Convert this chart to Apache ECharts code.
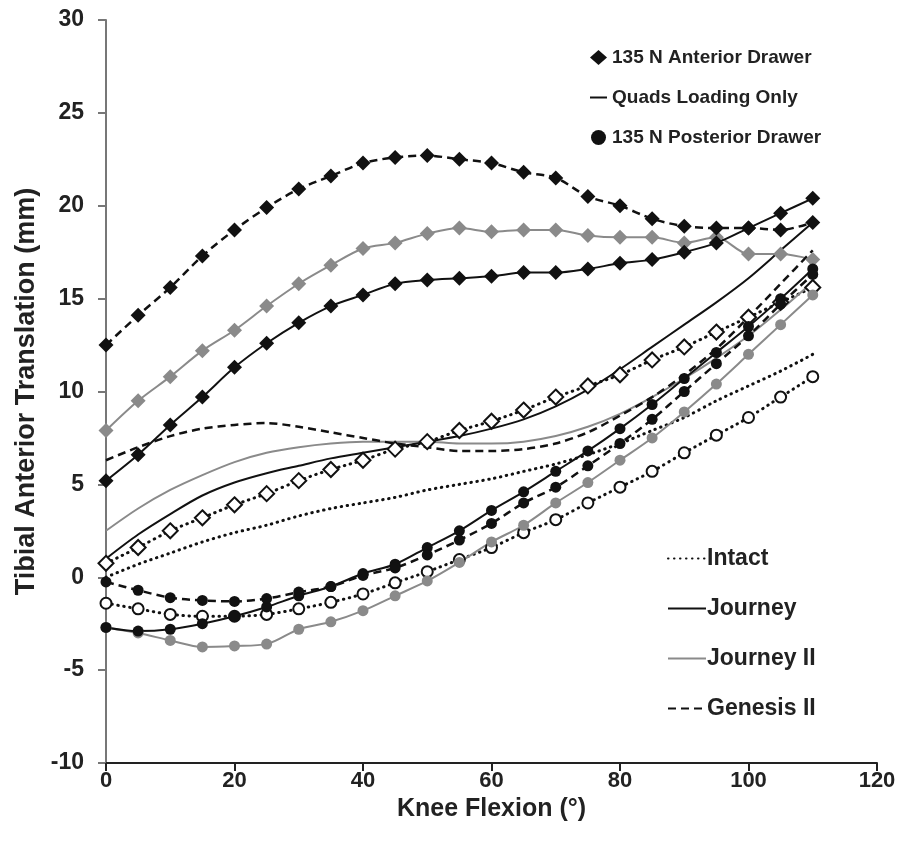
<!DOCTYPE html>
<html>

<head>
  <meta charset="UTF-8">
  <title>Tibial Anterior Translation</title>
  <script src="https://cdn.jsdelivr.net/npm/echarts@6/dist/echarts.min.js"></script>
  <style>
    body {
      margin: 0;
      padding: 0;
      background: #ffffff;
    }

    #chart {
      width: 904px;
      height: 853px;
    }
  </style>
</head>

<body>
  <div id="chart"></div>

  <script>
    // knee flexion angles (deg)
    var flexion = [0, 5, 10, 15, 20, 25, 30, 35, 40, 45, 50, 55, 60, 65, 70, 75, 80, 85, 90, 95, 100, 105, 110];

    // Intact
    var intactAnt = [0.75, 1.6, 2.5, 3.2, 3.9, 4.5, 5.2, 5.8, 6.3, 6.9, 7.3, 7.9, 8.4, 9.0, 9.7, 10.3, 10.9, 11.7, 12.4, 13.2, 14.0, 14.8, 15.6];
    var intactQuads = [0.0, 0.7, 1.3, 1.9, 2.4, 2.8, 3.3, 3.7, 4.0, 4.3, 4.7, 5.0, 5.3, 5.7, 6.1, 6.6, 7.2, 7.9, 8.6, 9.5, 10.3, 11.1, 12.0];
    var intactPost = [-1.4, -1.7, -2.0, -2.1, -2.1, -2.0, -1.7, -1.35, -0.9, -0.3, 0.3, 0.95, 1.6, 2.4, 3.1, 4.0, 4.85, 5.7, 6.7, 7.65, 8.6, 9.7, 10.8];

    // Journey
    var journeyAnt = [5.2, 6.6, 8.2, 9.7, 11.3, 12.6, 13.7, 14.6, 15.2, 15.8, 16.0, 16.1, 16.2, 16.4, 16.4, 16.6, 16.9, 17.1, 17.5, 18.0, 18.8, 19.6, 20.4];
    var journeyQuads = [1.0, 2.3, 3.4, 4.4, 5.1, 5.6, 6.0, 6.4, 6.7, 7.0, 7.3, 7.6, 8.0, 8.5, 9.2, 10.1, 11.2, 12.4, 13.6, 14.8, 16.1, 17.6, 19.1];
    var journeyPost = [-2.7, -2.9, -2.8, -2.5, -2.1, -1.6, -1.0, -0.5, 0.2, 0.7, 1.6, 2.5, 3.6, 4.6, 5.7, 6.8, 8.0, 9.3, 10.7, 12.1, 13.5, 15.0, 16.6];

    // Journey II
    var journey2Ant = [7.9, 9.5, 10.8, 12.2, 13.3, 14.6, 15.8, 16.8, 17.7, 18.0, 18.5, 18.8, 18.6, 18.7, 18.7, 18.4, 18.3, 18.3, 18.0, 18.3, 17.4, 17.4, 17.1];
    var journey2Quads = [2.5, 3.7, 4.7, 5.5, 6.2, 6.7, 7.0, 7.2, 7.3, 7.3, 7.3, 7.2, 7.2, 7.3, 7.6, 8.1, 8.8, 9.7, 10.7, 11.8, 13.0, 14.4, 15.9];
    var journey2Post = [-2.7, -3.0, -3.4, -3.75, -3.7, -3.6, -2.8, -2.4, -1.8, -1.0, -0.2, 0.8, 1.9, 2.8, 4.0, 5.1, 6.3, 7.5, 8.9, 10.4, 12.0, 13.6, 15.2];

    // Genesis II
    var genesisAnt = [12.5, 14.1, 15.6, 17.3, 18.7, 19.9, 20.9, 21.6, 22.3, 22.6, 22.7, 22.5, 22.3, 21.8, 21.5, 20.5, 20.0, 19.3, 18.9, 18.8, 18.8, 18.7, 19.1];
    var genesisQuads = [6.3, 7.0, 7.6, 8.0, 8.2, 8.3, 8.1, 7.8, 7.5, 7.2, 7.0, 6.8, 6.8, 6.9, 7.2, 7.8, 8.7, 9.7, 10.9, 12.3, 14.0, 15.8, 17.6];
    var genesisPost = [-0.25, -0.7, -1.1, -1.25, -1.3, -1.15, -0.8, -0.5, 0.1, 0.5, 1.2, 2.0, 2.9, 4.0, 4.85, 6.0, 7.2, 8.5, 10.0, 11.5, 13.0, 14.7, 16.3];

    var loadLegend = ['135 N Anterior Drawer', 'Quads Loading Only', '135 N Posterior Drawer'];
    var implantLegend = ['Intact', 'Journey', 'Journey II', 'Genesis II'];

    var GRAY = '#8a8a8a';
    var BLACK = '#111111';
    var FONT = '"Liberation Sans", Arial, sans-serif';

    function pairs(vals) {
      return flexion.map(function (x, i) { return [x, vals[i]]; });
    }

    var dotted = [0.5, 5.5];
    var dashed = [8, 5];

    // one curve: values, line colour, dash type, marker
    function curve(name, vals, color, dash, symbol, fill) {
      return {
        name: name,
        type: 'line',
        data: pairs(vals),
        smooth: 0.3,
        symbol: symbol,
        symbolSize: symbol === 'diamond' ? 15 : 11,
        showSymbol: symbol !== 'none',
        lineStyle: {
          color: color,
          width: dash === dotted ? 3 : (dash === 'solid' ? 2 : 2.5),
          type: dash,
          cap: dash === dotted ? 'round' : 'butt'
        },
        itemStyle: { color: fill || color, borderColor: color, borderWidth: fill ? 2 : 0 },
        emphasis: { disabled: true },
        animation: false,
        z: 2
      };
    }

    var series = [
      curve('Intact', intactQuads, BLACK, dotted, 'none'),
      curve('Intact AD', intactAnt, BLACK, dotted, 'diamond', '#ffffff'),
      curve('Intact PD', intactPost, BLACK, dotted, 'circle', '#ffffff'),
      curve('Journey II', journey2Quads, GRAY, 'solid', 'none'),
      curve('Journey II AD', journey2Ant, GRAY, 'solid', 'diamond'),
      curve('Journey II PD', journey2Post, GRAY, 'solid', 'circle'),
      curve('Journey', journeyQuads, BLACK, 'solid', 'none'),
      curve('Journey AD', journeyAnt, BLACK, 'solid', 'diamond'),
      curve('Journey PD', journeyPost, BLACK, 'solid', 'circle'),
      curve('Genesis II', genesisQuads, BLACK, dashed, 'none'),
      curve('Genesis II AD', genesisAnt, BLACK, dashed, 'diamond'),
      curve('Genesis II PD', genesisPost, BLACK, dashed, 'circle')
    ];

    // empty series that only feed the load-case legend
    series.push({ name: loadLegend[0], type: 'line', data: [], symbol: 'diamond', lineStyle: { color: BLACK }, itemStyle: { color: BLACK } });
    series.push({ name: loadLegend[1], type: 'line', data: [], symbol: 'none', lineStyle: { color: BLACK, width: 2 }, itemStyle: { color: BLACK } });
    series.push({ name: loadLegend[2], type: 'line', data: [], symbol: 'circle', lineStyle: { color: BLACK }, itemStyle: { color: BLACK } });

    var hidden = { opacity: 0 };

    var chart = echarts.init(document.getElementById('chart'), null, { renderer: 'canvas' });

    chart.setOption({
      backgroundColor: '#ffffff',
      animation: false,
      grid: { left: 106, right: 27, top: 20, bottom: 90, containLabel: false },
      legend: [
        {
          data: [
            { name: loadLegend[0], icon: 'diamond' },
            { name: loadLegend[1], itemStyle: hidden },
            { name: loadLegend[2], icon: 'circle' }
          ],
          orient: 'vertical',
          left: 584,
          top: 43,
          itemWidth: 17,
          itemHeight: 15,
          itemGap: 21,
          selectedMode: false,
          textStyle: { fontFamily: FONT, fontWeight: 'bold', fontSize: 19, lineHeight: 15, color: '#222' }
        },
        {
          data: implantLegend.map(function (n) { return { name: n, itemStyle: hidden }; }),
          orient: 'vertical',
          left: 662,
          top: 542,
          itemWidth: 38,
          itemHeight: 22,
          itemGap: 27,
          selectedMode: false,
          textStyle: { fontFamily: FONT, fontWeight: 'bold', fontSize: 23, lineHeight: 22, color: '#222', padding: [0, 0, 0, -4] }
        }
      ],
      xAxis: {
        type: 'value',
        min: 0,
        max: 120,
        interval: 20,
        name: 'Knee Flexion (°)',
        nameLocation: 'middle',
        nameGap: 34,
        nameTextStyle: { fontFamily: FONT, fontWeight: 'bold', fontSize: 25, color: '#222' },
        axisLine: { onZero: false, lineStyle: { color: '#222', width: 2 } },
        axisTick: { show: true, length: 8, lineStyle: { color: '#222', width: 2 } },
        axisLabel: { fontFamily: FONT, fontWeight: 'bold', fontSize: 22, color: '#222', margin: 7 },
        splitLine: { show: false }
      },
      yAxis: {
        type: 'value',
        min: -10,
        max: 30,
        interval: 5,
        name: 'Tibial Anterior Translation (mm)',
        nameLocation: 'middle',
        nameRotate: 90,
        nameGap: 57,
        nameTextStyle: { fontFamily: FONT, fontWeight: 'bold', fontSize: 27, color: '#222' },
        axisLine: { show: true, onZero: false, lineStyle: { color: '#777', width: 2 } },
        axisTick: { show: true, length: 8, lineStyle: { color: '#777', width: 2 } },
        axisLabel: { fontFamily: FONT, fontWeight: 'bold', fontSize: 23, color: '#222', margin: 22 },
        splitLine: { show: false }
      },
      series: series
    });
  </script>
</body>

</html>
